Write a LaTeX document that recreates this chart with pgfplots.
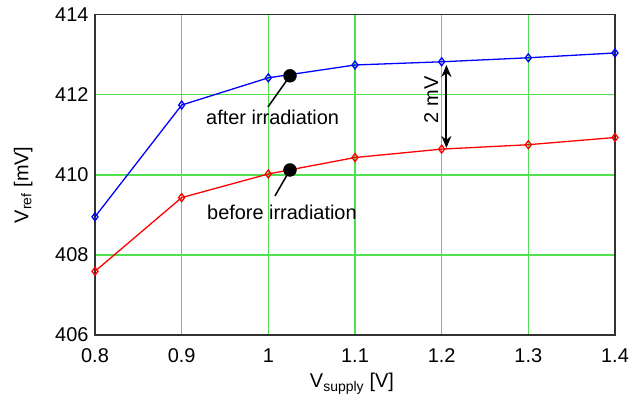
\documentclass[border=0pt]{standalone}
\usepackage{fontspec}
\setmainfont{Liberation Sans}
\usepackage{pgfplots}
\pgfplotsset{compat=1.18}
\usetikzlibrary{arrows.meta}
\definecolor{gridgreen}{RGB}{80,225,80}
\definecolor{frame}{RGB}{50,50,50}
\begin{document}
\begin{tikzpicture}
\useasboundingbox (-95bp,-68bp) rectangle (546bp,335bp);
\begin{axis}[
  scale only axis,
  width=520bp, height=320.5bp,
  xmin=0.8, xmax=1.4, ymin=406, ymax=414,
  xtick={0.8,0.9,1,1.1,1.2,1.3,1.4},
  xticklabels={0.8,0.9,1,1.1,1.2,1.3,1.4},
  ytick={406,408,410,412,414},
  yticklabels={406,408,410,412,414},
  grid=major,
  major grid style={gridgreen, line width=1.5pt},
  axis line style={frame, line width=1.6pt},
  tick style={draw=none},
  ticklabel style={font=\fontsize{20}{23}\selectfont},
  xticklabel style={yshift=-10bp},
  yticklabel style={xshift=-3bp},
  xlabel={V\textsubscript{supply} [V]},
  ylabel={V\textsubscript{ref} [mV]},
  label style={font=\fontsize{20}{23}\selectfont},
  xlabel style={yshift=-4bp, xshift=-3bp},
  ylabel style={yshift=16bp, xshift=-10bp},
  clip=false,
]
\addplot[blue, line width=1.3pt, mark=diamond, mark size=4pt, mark options={solid, fill=white, line width=1.3pt}]
  coordinates {(0.8,408.95) (0.9,411.74) (1.0,412.42) (1.1,412.74) (1.2,412.82) (1.3,412.92) (1.4,413.04)};
\addplot[red, line width=1.3pt, mark=diamond, mark size=4pt, mark options={solid, fill=white, line width=1.3pt}]
  coordinates {(0.8,407.59) (0.9,409.43) (1.0,410.02) (1.1,410.43) (1.2,410.64) (1.3,410.75) (1.4,410.93)};
\draw[black, line width=1.5pt] (axis cs:1.025,412.47) -- (axis cs:0.9995,411.69);
\draw[black, line width=1.5pt] (axis cs:1.025,410.12) -- (axis cs:1.0076,409.47);
\addplot[only marks, mark=*, mark size=6.5pt, black] coordinates {(1.025,412.47) (1.025,410.12)};
\node[font=\fontsize{20}{23}\selectfont] at (axis cs:1.005,411.42) {after irradiation};
\node[font=\fontsize{20}{23}\selectfont] at (axis cs:1.0157,409.06) {before irradiation};
\draw[black, line width=2pt, {Stealth[length=12pt,width=10pt]}-{Stealth[length=12pt,width=10pt]}] (axis cs:1.2055,412.74) -- (axis cs:1.2055,410.67);
\node[rotate=90, font=\fontsize{20}{23}\selectfont] at (axis cs:1.188,411.87) {2 mV};
\end{axis}
\end{tikzpicture}
\end{document}
